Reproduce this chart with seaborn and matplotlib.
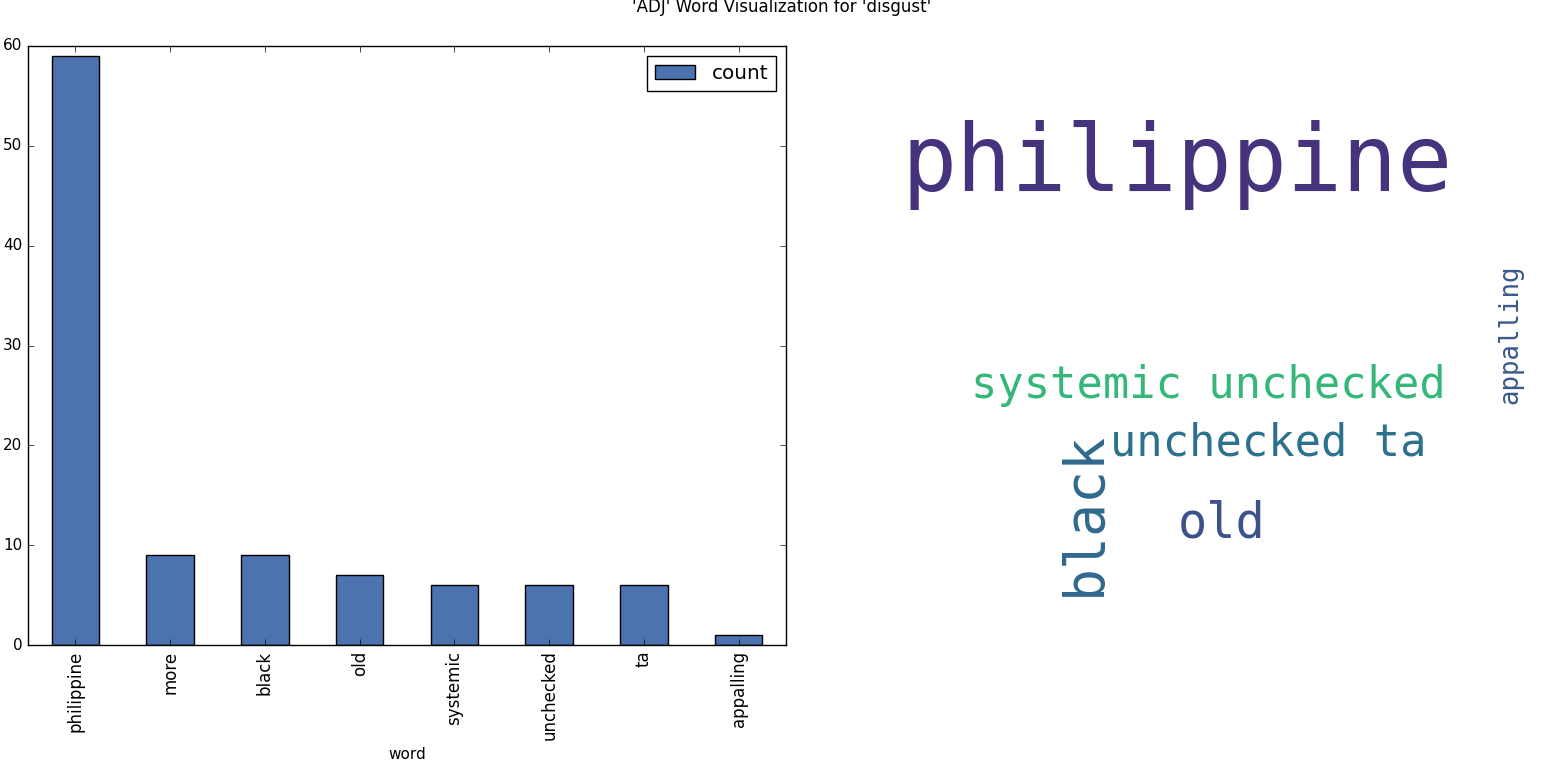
import matplotlib
matplotlib.use("Agg")
import matplotlib.pyplot as plt
import seaborn as sns
import pandas as pd

# bar chart data
words = ["philippine", "more", "black", "old", "systemic", "unchecked", "ta", "appalling"]
counts = [59, 9, 9, 7, 6, 6, 6, 1]

# word cloud data (terms, font size in pt, colour)
cloud_words = ["philippine", "systemic unchecked", "unchecked ta", "black", "old", "appalling"]
cloud_sizes = [66, 31.5, 31.5, 39.5, 35, 18.5]
cloud_colors = ["#46337e", "#35b779", "#2c718e", "#30698e", "#3b528b", "#3a5a8c"]
# where the cloud put each term, in figure pixels (x, baseline y, rotation)
cloud_layout = [(901, 191, 0), (971, 398, 0), (1110, 456, 0),
                (1100, 596, 90), (1178, 537, 0), (1517, 404, 90)]

title = "'ADJ' Word Visualization for 'disgust'"

plt.style.use("classic")
fig = plt.figure(figsize=(15.64, 7.62), dpi=100, facecolor="white")

df = pd.DataFrame({"word": words, "count": counts})
ax = fig.add_axes([28 / 1564, 1 - 645 / 762, (786 - 28) / 1564, (645 - 46) / 762])
sns.barplot(data=df, x="word", y="count", color="#4c72b0", saturation=1,
            width=0.5, edgecolor="black", linewidth=1, label="count", ax=ax)
ax.set_ylim(0, 60)
ax.set_xlim(-0.5, len(words) - 0.5)
ax.set_ylabel("")
ax.set_xlabel("word", fontsize=11)
ax.tick_params(axis="x", labelrotation=90, labelsize=12)
ax.tick_params(axis="y", labelsize=11)
ax.legend(loc="upper right", fontsize=14.4)

# word cloud panel
ax2 = fig.add_axes([0.5, 0, 0.5, 1])
ax2.set_xlim(782, 1564)
ax2.set_ylim(762, 0)
ax2.axis("off")
for w, s, c, (x, y, r) in zip(cloud_words, cloud_sizes, cloud_colors, cloud_layout):
    ax2.text(x, y, w, fontsize=s, color=c, family="DejaVu Sans Mono",
             rotation=r, rotation_mode="anchor", ha="left", va="baseline")

fig.text(0.5, 1 - 12 / 762, title, ha="center", va="baseline", fontsize=12)

fig.savefig("out.png", dpi=100, facecolor="white")
